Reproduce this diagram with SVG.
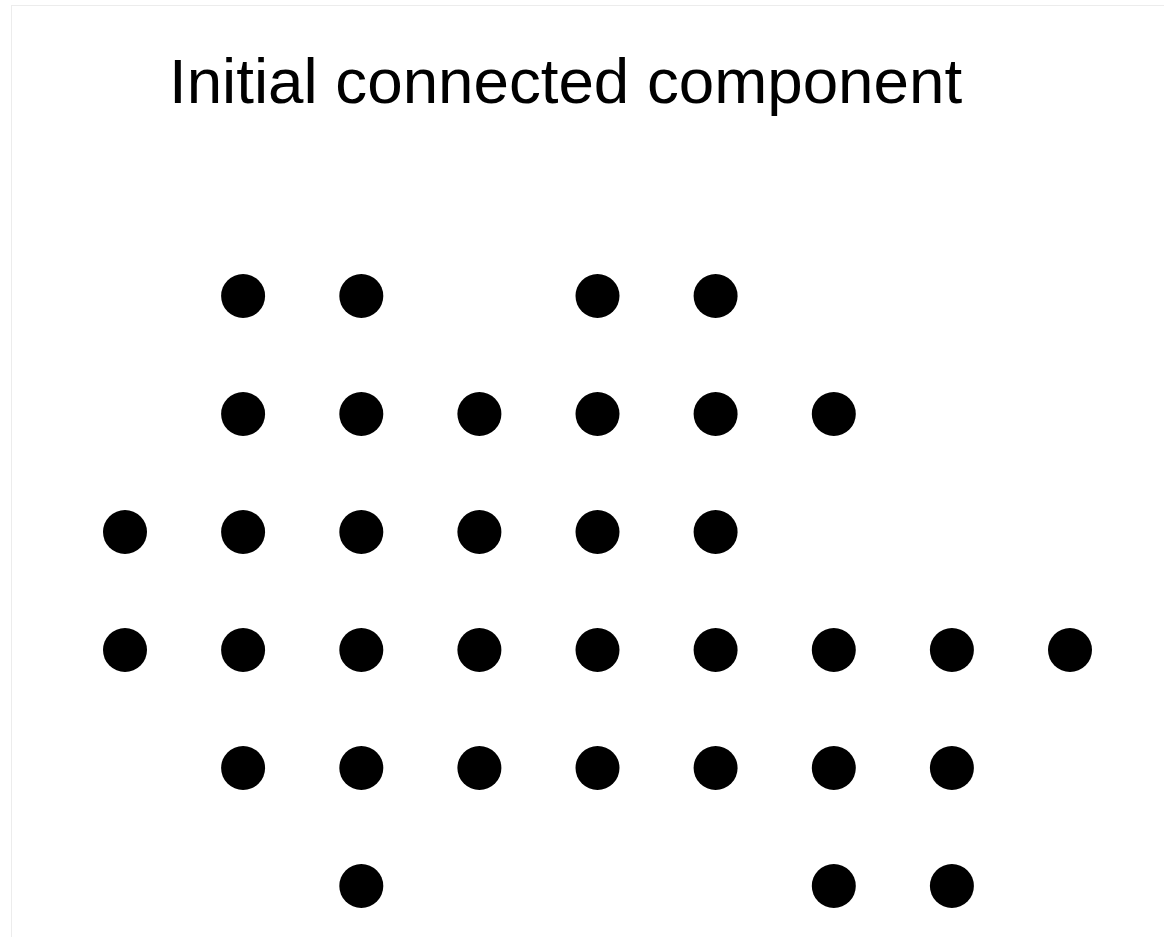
<svg xmlns="http://www.w3.org/2000/svg" width="1164" height="937" viewBox="0 0 1164 937">
<style>
.dot{fill:#000}
.title{font-family:"Liberation Sans",Arial,sans-serif;font-size:63.7px;fill:#000}
</style>
<rect width="1164" height="937" fill="#fff"/>
<rect x="11.5" y="5.5" width="1160" height="940" fill="none" stroke="#ececec" stroke-width="1"/>
<text class="title" x="169" y="103">Initial connected component</text>
<g id="nodes">
<g id="r0"><circle class="dot" cx="243.1" cy="296" r="22"/><circle class="dot" cx="361.3" cy="296" r="22"/><circle class="dot" cx="597.5" cy="296" r="22"/><circle class="dot" cx="715.6" cy="296" r="22"/></g>
<g id="r1"><circle class="dot" cx="243.1" cy="414" r="22"/><circle class="dot" cx="361.3" cy="414" r="22"/><circle class="dot" cx="479.4" cy="414" r="22"/><circle class="dot" cx="597.5" cy="414" r="22"/><circle class="dot" cx="715.6" cy="414" r="22"/><circle class="dot" cx="833.8" cy="414" r="22"/></g>
<g id="r2"><circle class="dot" cx="125" cy="532" r="22"/><circle class="dot" cx="243.1" cy="532" r="22"/><circle class="dot" cx="361.3" cy="532" r="22"/><circle class="dot" cx="479.4" cy="532" r="22"/><circle class="dot" cx="597.5" cy="532" r="22"/><circle class="dot" cx="715.6" cy="532" r="22"/></g>
<g id="r3"><circle class="dot" cx="125" cy="650" r="22"/><circle class="dot" cx="243.1" cy="650" r="22"/><circle class="dot" cx="361.3" cy="650" r="22"/><circle class="dot" cx="479.4" cy="650" r="22"/><circle class="dot" cx="597.5" cy="650" r="22"/><circle class="dot" cx="715.6" cy="650" r="22"/><circle class="dot" cx="833.8" cy="650" r="22"/><circle class="dot" cx="951.9" cy="650" r="22"/><circle class="dot" cx="1070" cy="650" r="22"/></g>
<g id="r4"><circle class="dot" cx="243.1" cy="768" r="22"/><circle class="dot" cx="361.3" cy="768" r="22"/><circle class="dot" cx="479.4" cy="768" r="22"/><circle class="dot" cx="597.5" cy="768" r="22"/><circle class="dot" cx="715.6" cy="768" r="22"/><circle class="dot" cx="833.8" cy="768" r="22"/><circle class="dot" cx="951.9" cy="768" r="22"/></g>
<g id="r5"><circle class="dot" cx="361.3" cy="886" r="22"/><circle class="dot" cx="833.8" cy="886" r="22"/><circle class="dot" cx="951.9" cy="886" r="22"/></g>
</g>
<g id="connectors"/>
</svg>
